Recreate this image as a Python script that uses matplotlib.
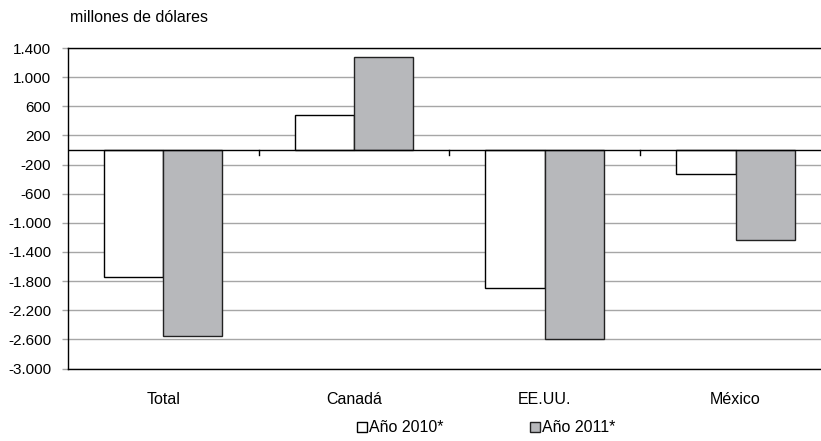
import numpy as np
import matplotlib
matplotlib.use("Agg")
import matplotlib.pyplot as plt
from matplotlib.ticker import FuncFormatter, FixedLocator
from matplotlib.patches import Patch

plt.rcParams['font.family'] = ['Liberation Sans', 'DejaVu Sans']

categories = ["Total", "Canadá", "EE.UU.", "México"]
series_names = ["Año 2010*", "Año 2011*"]
values_2010 = [-1740, 485, -1900, -325]
values_2011 = [-2550, 1280, -2600, -1235]
y_ticks = [-3000, -2600, -2200, -1800, -1400, -1000, -600, -200, 200, 600, 1000, 1400]


def fmt_thousands(v, pos=None):
    s = f"{abs(int(round(v))):,}".replace(",", ".")
    return ("-" if v < 0 else "") + s


fig = plt.figure(figsize=(8.21, 4.41), dpi=100)
# plot area runs past the right edge of the picture, as in the reference
ax = fig.add_axes([67.7 / 821, 1 - 368.5 / 441, (831 - 67.7) / 821, (368.5 - 48) / 441])

x = np.arange(len(categories))
w = 0.311
ax.bar(x - w / 2, values_2010, w, color="white", edgecolor="black", linewidth=1.0, zorder=3)
ax.bar(x + w / 2, values_2011, w, color="#b7b8bb", edgecolor="#222222", linewidth=1.0, zorder=3)

ax.set_xlim(-0.5, len(categories) - 0.5)
ax.set_ylim(-3000, 1400)
ax.yaxis.set_major_locator(FixedLocator(y_ticks))
ax.yaxis.set_major_formatter(FuncFormatter(fmt_thousands))
ax.grid(axis="y", color="#a6a6a6", linewidth=1.0, zorder=0)
ax.tick_params(axis="y", length=4, width=1, color="#a6a6a6", labelsize=11, pad=8)

# category axis crossing at zero, with ticks between categories
ax.axhline(0, color="black", linewidth=1.0, zorder=4)
for b in np.arange(0.5, len(categories) - 0.5, 1.0):
    ax.plot([b, b], [0, -70], color="black", linewidth=1.0, zorder=4, clip_on=False)
ax.set_xticks(x)
ax.set_xticklabels(categories, fontsize=11.5)
ax.tick_params(axis="x", length=0, pad=17)

for side in ["left", "top", "bottom"]:
    ax.spines[side].set_color("black")
    ax.spines[side].set_linewidth(1.0)
ax.spines["right"].set_visible(False)

fig.text(70 / 821, 1 - 18 / 441, "millones de dólares", fontsize=11.5, va="center", ha="left")

handles = [Patch(facecolor="white", edgecolor="black", linewidth=1.0),
           Patch(facecolor="#b7b8bb", edgecolor="#222222", linewidth=1.0)]
fig.legend(handles, series_names, loc="center", bbox_to_anchor=(486 / 821, 1 - 428 / 441),
           ncol=2, frameon=False, fontsize=11.5, handlelength=0.62, handleheight=0.62,
           handletextpad=0.15, columnspacing=5.4, borderpad=0, borderaxespad=0)

fig.savefig("out.png", dpi=100)
